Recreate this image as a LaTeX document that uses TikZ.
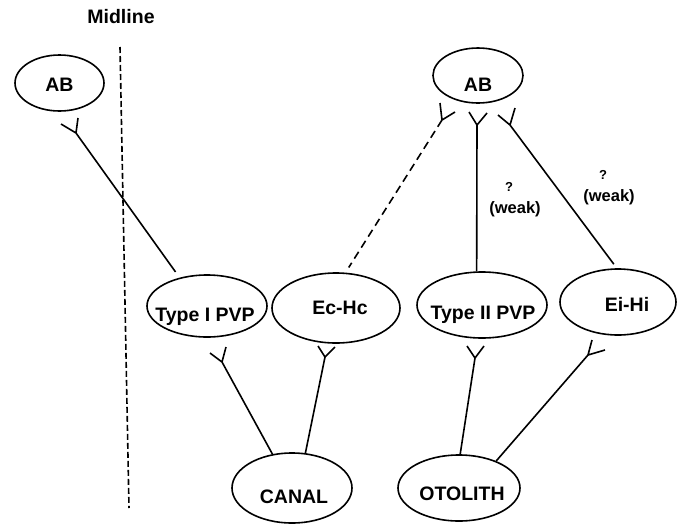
\documentclass[tikz,border=0pt]{standalone}
\usepackage{fontspec}
\setmainfont{Liberation Sans}
\usetikzlibrary{shapes.geometric}
\begin{document}
\begin{tikzpicture}[x=1pt,y=-1pt,line width=1.6pt,
  cell/.style={draw,ellipse,inner sep=0pt},
  ctext/.style={font=\fontsize{19.5}{21}\selectfont\bfseries,inner sep=0pt,anchor=base},
  lbl/.style={font=\fontsize{16.5}{18}\selectfont\bfseries,inner sep=0pt,anchor=base},
  qm/.style={font=\fontsize{13}{15}\selectfont\bfseries,inner sep=0pt,anchor=base},
  midline/.style={dash pattern=on 6pt off 3pt,line width=1.6pt},
  weakdash/.style={dash pattern=on 8pt off 5pt}]
\useasboundingbox (0,0) rectangle (686,523);
% title
\node[ctext] (title) at (121,23) {Midline};
\coordinate (mtop) at (120,47);
\coordinate (mbot) at (129,508);
\draw[midline] (mtop) -- (mbot);
% ellipses
\node[cell,minimum width=89pt,minimum height=56pt] (abl) at (59.5,83) {};
\node[cell,minimum width=90pt,minimum height=55pt] (abr) at (478,75.5) {};
\node[cell,minimum width=120pt,minimum height=62pt] (t1) at (207,306) {};
\node[cell,minimum width=128pt,minimum height=70pt] (ec) at (336,308) {};
\node[cell,minimum width=130pt,minimum height=66pt] (t2) at (482,305) {};
\node[cell,minimum width=116pt,minimum height=66pt] (ei) at (618,302) {};
\node[cell,minimum width=120pt,minimum height=70pt] (canal) at (292,488) {};
\node[cell,minimum width=122pt,minimum height=66pt] (oto) at (459,488) {};
% texts
\node[ctext] (abltxt) at (59.5,91) {AB};
\node[ctext] (abrtxt) at (478,91) {AB};
\node[ctext] (t1txt) at (205,321) {Type I PVP};
\node[ctext] (ectxt) at (340,314) {Ec-Hc};
\node[ctext] (t2txt) at (483,319) {Type II PVP};
\node[ctext] (eitxt) at (627,311) {Ei-Hi};
\node[ctext] (canaltxt) at (294,503) {CANAL};
\node[ctext] (ototxt) at (462,500) {OTOLITH};
% junctions
\coordinate (j1) at (76,133);
\coordinate (j2) at (442,120);
\coordinate (j3) at (477,125);
\coordinate (j4) at (510,125);
\coordinate (j5) at (222,362);
\coordinate (j6) at (325,357);
\coordinate (j7) at (475,358);
\coordinate (j8) at (588,355);
% stems
\draw[shorten >=7pt] (j1) -- (t1.134);
\draw[weakdash,shorten >=6pt] (j2) -- (ec.75);
\draw (j3) -- (t2.99);
\draw[shorten >=5pt] (j4) -- (ei.92);
\draw (j5) -- (canal.120);
\draw (j6) -- (canal.69);
\draw (j7) -- (oto.88);
\draw (j8) -- (oto.36);
% forks
\draw (j1) -- ++(-15,-9) (j1) -- ++(2,-15);
\draw (j2) -- ++(-2,-17) (j2) -- ++(13,-8);
\draw (j3) -- ++(-8,-13) (j3) -- ++(10,-12);
\draw (j4) -- ++(-12,-10) (j4) -- ++(5,-17);
\draw (j5) -- ++(-12,-9) (j5) -- ++(4,-15);
\draw (j6) -- ++(-7,-11) (j6) -- ++(10,-10);
\draw (j7) -- ++(-8,-12) (j7) -- ++(9,-12);
\draw (j8) -- ++(4,-15) (j8) -- ++(17,-5);
% labels
\node[qm] (q1) at (509,191) {?};
\node[lbl] (w1) at (515,213) {(weak)};
\node[qm] (q2) at (603,179) {?};
\node[lbl] (w2) at (609,201) {(weak)};
\end{tikzpicture}
\end{document}
